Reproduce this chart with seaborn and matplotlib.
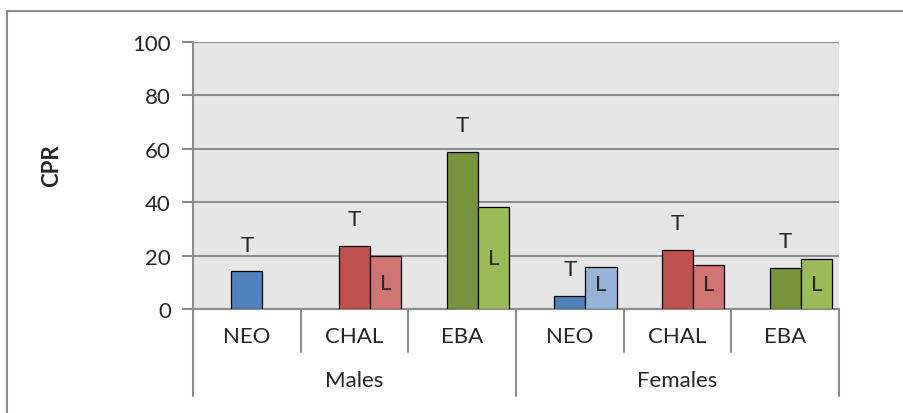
import numpy as np
import pandas as pd
import matplotlib.pyplot as plt
import matplotlib.transforms as mtransforms
from matplotlib.patches import Rectangle
import seaborn as sns

# Data
groups = ["Males", "Females"]
periods = ["NEO", "CHAL", "EBA"]
t_values = [14.1, 23.7, 58.9, 5.0, 22.0, 15.4]
l_values = [np.nan, 19.7, 38.2, 15.6, 16.5, 18.6]

t_colors = ["#4F81BD", "#C0504D", "#77933C"]
l_colors = ["#95B3D7", "#D07571", "#9BBB59"]

sns.set_style("white")
plt.rcParams['font.family'] = ['Lato', 'DejaVu Sans']
fs = 16

fig = plt.figure(figsize=(9.04, 4.14), dpi=100)
ax = fig.add_axes([193 / 904, 1 - 310 / 414, 646 / 904, 267.3 / 414])
ax.set_facecolor("#E6E6E6")

n = len(t_values)
bar_w = 0.29
pos = np.arange(n)
t_df = pd.DataFrame({"x": pos, "y": t_values,
                     "c": [str(i) for i in range(n)]})
l_df = pd.DataFrame({"x": pos + bar_w, "y": l_values,
                     "c": [str(i) for i in range(n)]}).dropna()

t_pal = {str(i): t_colors[i % 3] for i in range(n)}
l_pal = {str(i): l_colors[i % 3] for i in range(n)}

sns.barplot(data=t_df, x="x", y="y", hue="c", palette=t_pal, native_scale=True,
            width=bar_w, dodge=False, legend=False, edgecolor="black",
            linewidth=0.9, saturation=1, ax=ax, zorder=3)
sns.barplot(data=l_df, x="x", y="y", hue="c", palette=l_pal, native_scale=True,
            width=bar_w, dodge=False, legend=False, edgecolor="black",
            linewidth=0.9, saturation=1, ax=ax, zorder=3)
# native_scale width is relative to spacing; force exact width
for p in ax.patches:
    cx = p.get_x() + p.get_width() / 2
    p.set_x(cx - bar_w / 2)
    p.set_width(bar_w)

# T / L labels
for i, v in enumerate(t_values):
    ax.text(i, v + 10, "T", ha="center", va="center", fontsize=fs, zorder=4)
for i, v in enumerate(l_values):
    if not np.isnan(v):
        ax.text(i + bar_w, max(v / 2, 9.5), "L", ha="center", va="center",
                fontsize=fs, zorder=4)

ax.set_xlim(-0.5, n - 0.5)
ax.set_ylim(0, 100)
ax.set_yticks(range(0, 101, 20))
ax.yaxis.grid(True, color="#8C8C8C", linewidth=1.5, zorder=0)
ax.set_axisbelow(True)
ax.tick_params(axis="y", length=8, width=1.5, color="#8C8C8C", labelsize=fs,
               pad=8, left=True)
ax.tick_params(axis="x", bottom=False, labelbottom=False)
ax.set_xticks([])
for s in ["top", "right"]:
    ax.spines[s].set_visible(False)
for s in ["left", "bottom"]:
    ax.spines[s].set_color("#8C8C8C")
    ax.spines[s].set_linewidth(1.5)
ax.set_xlabel("")
ax.set_ylabel("CPR", fontsize=fs, fontweight="bold")
ax.yaxis.set_label_coords(-0.202, 0.54)

# Hierarchical category axis
trans = mtransforms.blended_transform_factory(ax.transData, ax.transAxes)
cat_bot = -43 / 267.3
grp_bot = -87 / 267.3
for k in range(n + 1):
    x = k - 0.5
    bot = grp_bot if k % 3 == 0 else cat_bot
    ax.plot([x, x], [0, bot], transform=trans, color="#8C8C8C", lw=1.5,
            clip_on=False)
for i in range(n):
    ax.text(i, -27 / 267.3, periods[i % 3], transform=trans, ha="center",
            va="center", fontsize=fs)
for g, name in enumerate(groups):
    ax.text(g * 3 + 1, -71 / 267.3, name, transform=trans, ha="center",
            va="center", fontsize=fs)

# Outer chart border
fig.patches.append(Rectangle((7 / 904, -0.1), 1.0, 1 - 12 / 414 + 0.1,
                             transform=fig.transFigure, fill=False,
                             edgecolor="#8C8C8C", linewidth=1.5))

fig.savefig("out.png", dpi=100)
